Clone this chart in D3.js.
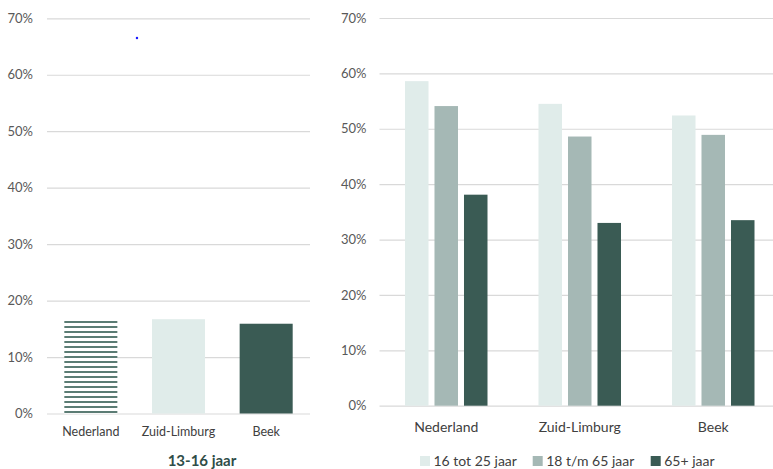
<!DOCTYPE html>
<html>
<head>
<meta charset="utf-8">
<script src="https://cdn.jsdelivr.net/npm/d3@7"></script>
<style>
  html, body { margin: 0; padding: 0; background: #fff; }
  svg { display: block; font-family: Lato, "Open Sans", sans-serif; }
</style>
</head>
<body>
<svg id="chart" width="773" height="469"></svg>
<script>
// Regions shown on both panels
const categories = ["Nederland", "Zuid-Limburg", "Beek"];

// Left panel: 13-16 jaar
const youthValues = [16.4, 16.7, 15.9];

// Right panel: three age groups
const seriesNames = ["16 tot 25 jaar", "18 t/m 65 jaar", "65+ jaar"];
const age16to25 = [58.6, 54.5, 52.4];
const age18to65 = [54.1, 48.6, 48.9];
const age65plus = [38.1, 33.0, 33.5];

// Axis ticks (percent)
const yTicks = [0, 10, 20, 30, 40, 50, 60, 70];

const colors = ["#e0ecea", "#a5b8b5", "#3a5b54"];
const gridColor = "#d9d9d9";
const tickColor = "#595959";
const labelColor = "#404040";

const svg = d3.select("#chart");

// Stripe pattern for the Nederland bar of the left panel
const defs = svg.append("defs");
const pat = defs.append("pattern")
  .attr("id", "stripes")
  .attr("patternUnits", "userSpaceOnUse")
  .attr("width", 10).attr("height", 5)
  .attr("y", 1);
pat.append("rect").attr("width", 10).attr("height", 5).attr("fill", "#ffffff");
pat.append("rect").attr("width", 10).attr("height", 2).attr("fill", "#5b7c74");

function drawGrid(g, y, x0, x1, padding) {
  const axis = d3.axisLeft(y)
    .tickValues(yTicks)
    .tickFormat(d => d + "%")
    .tickSize(-(x1 - x0))
    .tickPadding(padding);
  const ax = g.append("g").attr("transform", `translate(${x0},0)`).call(axis);
  ax.select(".domain").remove();
  ax.selectAll(".tick line").attr("stroke", gridColor).attr("stroke-width", 1.2);
  ax.selectAll(".tick text")
    .attr("fill", tickColor)
    .style("font-size", "13px")
    .style("font-family", "Lato, sans-serif");
}

// ---------- Left panel ----------
const left = svg.append("g");
const yL = d3.scaleLinear().domain([0, 70]).range([413.5, 18.3]);
const xL = d3.scaleBand().domain(categories).range([47, 310])
  .paddingInner(0.395).paddingOuter(0.1975);

drawGrid(left, yL, 47, 310, 14);

left.selectAll("rect.bar")
  .data(categories.map((c, i) => ({ c, v: youthValues[i], i })))
  .join("rect")
  .attr("class", "bar")
  .attr("x", d => xL(d.c))
  .attr("width", xL.bandwidth())
  .attr("y", d => yL(d.v))
  .attr("height", d => yL(0) - yL(d.v))
  .attr("fill", d => d.i === 0 ? "url(#stripes)" : (d.i === 1 ? colors[0] : colors[2]));

left.selectAll("text.xlab")
  .data(categories)
  .join("text")
  .attr("class", "xlab")
  .attr("x", d => xL(d) + xL.bandwidth() / 2)
  .attr("y", 436)
  .attr("text-anchor", "middle")
  .attr("fill", labelColor)
  .style("font-size", "12.5px")
  .text(d => d);

left.append("text")
  .attr("x", 202)
  .attr("y", 465.5)
  .attr("text-anchor", "middle")
  .attr("fill", "#2f4d48")
  .style("font-size", "15px")
  .style("font-weight", "700")
  .text("13-16 jaar");

// small marker dot in the upper plot area
left.append("circle")
  .attr("cx", xL("Zuid-Limburg") - 15)
  .attr("cy", yL(66.5))
  .attr("r", 1.2)
  .attr("fill", "#1a1aff");

// ---------- Right panel ----------
const right = svg.append("g");
const yR = d3.scaleLinear().domain([0, 70]).range([405.7, 18]);
const x0 = d3.scaleBand().domain(categories).range([379.5, 780])
  .paddingInner(0.382).paddingOuter(0.191);
const x1 = d3.scaleBand().domain(seriesNames).range([0, x0.bandwidth()])
  .paddingInner(0.203).paddingOuter(0);

drawGrid(right, yR, 379.5, 780, 13);

const seriesValues = [age16to25, age18to65, age65plus];
const groups = right.selectAll("g.grp")
  .data(categories)
  .join("g")
  .attr("class", "grp")
  .attr("transform", d => `translate(${x0(d)},0)`);

groups.selectAll("rect")
  .data((c, ci) => seriesNames.map((s, si) => ({ s, si, v: seriesValues[si][ci] })))
  .join("rect")
  .attr("x", d => x1(d.s))
  .attr("width", x1.bandwidth())
  .attr("y", d => yR(d.v))
  .attr("height", d => yR(0) - yR(d.v))
  .attr("fill", d => colors[d.si]);

right.selectAll("text.xlab")
  .data(categories)
  .join("text")
  .attr("class", "xlab")
  .attr("x", d => x0(d) + x0.bandwidth() / 2)
  .attr("y", 431.5)
  .attr("text-anchor", "middle")
  .attr("fill", labelColor)
  .style("font-size", "14px")
  .text(d => d);

// Legend
const legendX = [420, 532.7, 650.7];
const legend = right.selectAll("g.leg")
  .data(seriesNames)
  .join("g")
  .attr("class", "leg")
  .attr("transform", (d, i) => `translate(${legendX[i]},456)`);
legend.append("rect")
  .attr("width", 10).attr("height", 10)
  .attr("fill", (d, i) => colors[i]);
legend.append("text")
  .attr("x", 13.5)
  .attr("y", 10)
  .attr("fill", labelColor)
  .style("font-size", "14px")
  .text(d => d);
</script>
</body>
</html>
